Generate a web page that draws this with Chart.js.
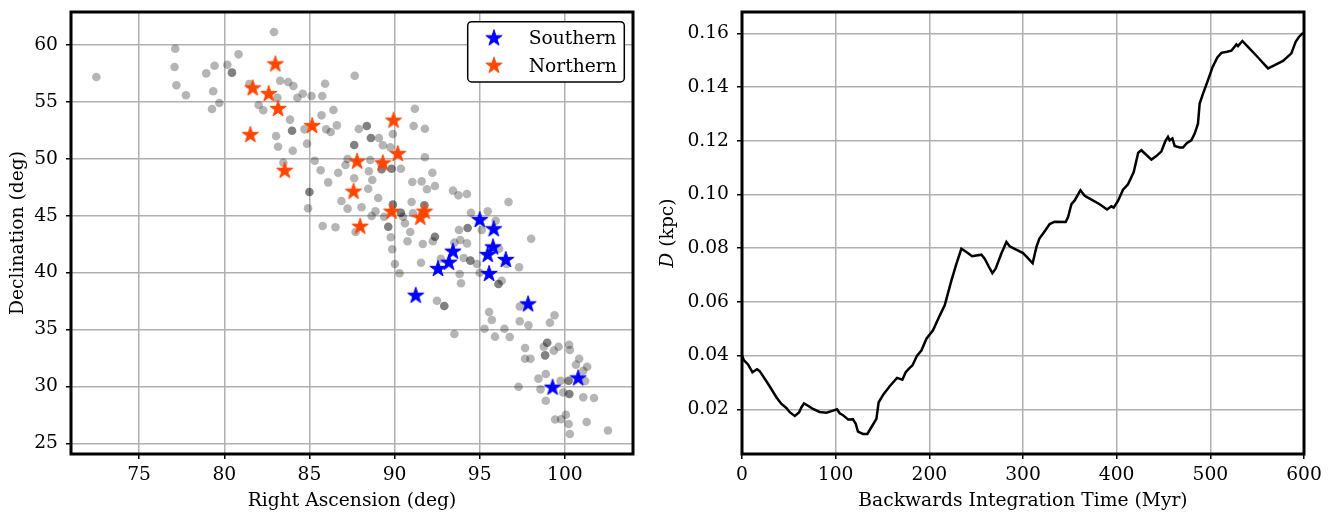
<!DOCTYPE html>
<html><head><meta charset="utf-8">
<script src="https://cdn.jsdelivr.net/npm/chart.js@4"></script>
<style>
html,body{margin:0;padding:0;background:#fff;overflow:hidden}
#wrap{position:relative;width:1342px;height:515px;background:#fff}
#c1{position:absolute;left:0;top:0}
#c2{position:absolute;left:650px;top:0}
</style></head><body>
<div id="wrap"><canvas id="c1" width="660" height="515"></canvas><canvas id="c2" width="692" height="515"></canvas></div>
<script>
// ---------------- DATA ----------------
const seriesNames = ['Southern', 'Northern'];
const raSouth  = [95.00, 95.82, 95.78, 95.47, 96.53, 95.55, 93.43, 93.19, 92.55, 91.24, 97.84, 99.28, 100.78];
const decSouth = [44.62, 43.81, 42.22, 41.55, 41.11, 39.88, 41.84, 40.87, 40.32, 37.97, 37.21, 29.89, 30.71];
const raNorth  = [83.00, 81.67, 82.61, 83.16, 81.53, 85.16, 83.55, 89.94, 90.19, 87.80, 89.31, 87.59, 89.82, 91.76, 91.51, 87.98];
const decNorth = [58.30, 56.19, 55.69, 54.38, 52.09, 52.88, 48.95, 53.35, 50.42, 49.75, 49.60, 47.11, 45.35, 45.35, 44.82, 44.03];
const raAll = [82.92,77.12,80.84,77.08,79.43,80.18,80.45,80.45,78.94,72.49,77.19,77.75,79.35,79.71,79.28,81.47,83.28,83.75,84.06,83.12,
 84.29,84.61,85.12,85.75,85.92,87.66,82.02,82.29,83.86,83.98,83.98,83.04,84.71,85.71,86.41,85.98,86.25,86.61,87.90,83.16,
 84.02,84.86,87.63,87.63,85.31,85.66,86.10,86.69,87.12,87.24,87.63,83.47,85.00,85.00,84.92,86.88,87.24,85.78,86.53,88.37,
 88.37,88.61,88.61,89.08,89.31,89.75,89.90,91.19,91.12,91.78,91.78,88.57,88.49,88.69,88.45,89.19,89.24,89.24,89.82,89.82,
 90.37,88.06,89.04,88.88,89.39,89.90,89.90,90.37,90.37,90.61,91.04,91.59,91.90,92.37,91.00,91.75,91.75,91.08,92.22,93.43,
 93.75,94.25,96.69,94.49,95.47,95.94,94.29,94.29,93.78,89.63,89.63,88.65,90.49,87.71,89.78,90.92,90.76,91.66,92.37,92.37,
 92.25,93.86,94.25,89.86,95.12,93.51,94.06,94.45,94.45,94.84,91.55,92.72,95.00,93.82,93.90,90.29,90.02,96.14,96.57,97.31,
 98.02,96.29,96.10,96.10,92.49,92.92,92.92,95.55,95.71,93.51,95.28,95.90,96.45,96.76,97.35,97.35,97.86,99.39,99.12,97.66,
 97.66,97.98,98.76,98.96,98.96,98.84,98.84,99.35,99.63,100.25,100.29,100.84,100.65,101.31,101.08,97.28,98.45,98.88,98.57,98.88,
 99.75,100.22,100.22,101.19,99.90,100.26,100.26,101.08,101.71,99.43,99.78,100.06,100.22,101.28,100.29,102.53];
const decAll = [61.14,59.67,59.18,58.07,58.18,58.27,57.57,57.57,57.51,57.19,56.46,55.58,55.93,54.90,54.38,56.57,56.86,56.75,56.40,55.37,
 55.37,55.72,55.52,55.52,56.60,57.30,54.73,54.26,53.44,52.47,52.47,52.00,52.59,53.82,54.29,52.59,52.35,52.94,52.62,51.06,
 50.71,51.33,51.21,51.21,49.83,48.99,47.93,48.78,49.46,49.98,48.29,49.66,47.08,47.08,45.65,46.29,45.62,44.09,43.98,52.88,
 52.88,51.83,51.83,51.83,51.19,51.01,52.18,54.40,52.88,52.64,50.13,49.89,48.90,48.14,47.37,49.60,49.08,49.08,49.13,49.13,
 49.13,45.74,46.56,45.39,44.91,45.97,45.97,45.26,45.26,44.33,47.96,48.02,47.32,47.61,46.20,45.91,45.91,45.21,48.78,47.20,
 46.79,46.91,46.20,45.26,45.39,44.56,43.92,43.92,43.74,44.03,44.03,44.97,44.91,43.57,43.10,43.57,42.75,42.51,43.15,43.15,
 42.75,42.86,42.57,42.05,43.74,42.63,41.28,41.05,41.05,40.76,40.87,41.22,39.99,39.88,39.06,39.94,40.76,42.10,40.76,40.47,
 42.98,39.29,39.00,39.00,37.53,37.06,37.06,36.54,35.83,34.60,35.07,34.37,35.07,34.34,37.02,35.72,35.37,36.25,35.60,33.37,
 32.43,32.43,33.49,33.84,33.84,32.73,32.73,33.14,33.49,33.66,33.20,32.43,31.91,31.73,31.38,29.97,30.68,31.09,29.74,28.74,
 30.50,30.50,30.50,30.47,29.47,29.33,29.33,29.04,28.98,27.09,27.11,27.51,26.70,26.87,25.82,26.12];
const raTicks  = [75, 80, 85, 90, 95, 100];
const decTicks = [25, 30, 35, 40, 45, 50, 55, 60];

const tMyr = [0,2.1,6.4,11.1,16.0,18.9,27.8,36.7,42.1,47.4,51.0,56.3,60.9,63.4,66.2,70.5,75.8,82.9,90.1,97.2,
 101.4,104.3,107.8,113.2,118.5,121.4,123.8,129.2,133.8,138.1,143.5,145.9,151.3,157.7,165.5,171.2,174.8,179.0,181.9,186.9,
 191.5,196.9,203.9,211.1,216.4,223.6,228.9,234.2,239.6,245.6,255.6,259.1,263.7,267.3,270.8,276.9,282.3,285.8,300.0,304.3,
 310.3,314.3,317.5,321.3,328.5,333.8,345.6,348.1,351.7,355.2,361.3,365.9,371.2,381.9,389.7,394.4,396.8,401.4,406.8,412.1,
 418.2,423.0,426.4,437.1,442.4,447.8,452.0,454.8,456.6,459.5,461.9,467.3,470.8,475.1,479.7,483.3,486.8,488.6,492.2,497.5,
 502.2,507.5,511.8,517.8,522.5,525.3,527.8,529.5,534.2,540.2,549.2,561.6,568.7,577.6,586.5,591.1,594.7,598.3,600];
const dKpc = [0.0400,0.0382,0.0367,0.0338,0.0349,0.0342,0.0295,0.0245,0.0220,0.0205,0.0189,0.0175,0.0188,0.0207,0.0222,0.0213,0.0201,0.0190,0.0187,0.0195,
 0.0200,0.0185,0.0178,0.0162,0.0163,0.0146,0.0117,0.0108,0.0108,0.0133,0.0164,0.0226,0.0257,0.0286,0.0317,0.0310,0.0338,0.0354,0.0363,0.0400,
 0.0419,0.0463,0.0494,0.0549,0.0587,0.0680,0.0742,0.0798,0.0786,0.0770,0.0776,0.0761,0.0730,0.0707,0.0724,0.0780,0.0823,0.0807,0.0782,0.0767,
 0.0744,0.0804,0.0836,0.0854,0.0890,0.0899,0.0898,0.0916,0.0964,0.0978,0.1016,0.0995,0.0985,0.0964,0.0944,0.0956,0.0951,0.0976,0.1018,0.1038,
 0.1084,0.1156,0.1165,0.1130,0.1143,0.1161,0.1199,0.1215,0.1202,0.1209,0.1181,0.1175,0.1175,0.1192,0.1202,0.1227,0.1264,0.1339,0.1376,0.1426,
 0.1473,0.1511,0.1528,0.1532,0.1536,0.1548,0.1559,0.1553,0.1572,0.1550,0.1517,0.1470,0.1482,0.1498,0.1526,0.1569,0.1588,0.1600,0.1602];
const tTicks = [0, 100, 200, 300, 400, 500, 600];
const dTicks = [0.02, 0.04, 0.06, 0.08, 0.10, 0.12, 0.14, 0.16];

// ---------------- STYLE ----------------
const FAM = "'DejaVu Serif', serif";
const FS = 18.7;
Chart.defaults.font.family = FAM;
Chart.defaults.font.size = FS;
Chart.defaults.color = '#000';

function makeStar(color, R) {
  const s = Math.ceil(2 * R + 4);
  const c = document.createElement('canvas');
  c.width = s; c.height = s;
  const g = c.getContext('2d');
  const cx = s / 2, cy = s / 2, r = R * 0.381966;
  g.beginPath();
  for (let k = 0; k < 10; k++) {
    const ang = -Math.PI / 2 + k * Math.PI / 5;
    const rr = k % 2 === 0 ? R : r;
    const px = cx + rr * Math.cos(ang), py = cy + rr * Math.sin(ang);
    k === 0 ? g.moveTo(px, py) : g.lineTo(px, py);
  }
  g.closePath();
  g.fillStyle = color; g.fill();
  g.lineWidth = 1; g.strokeStyle = color; g.stroke();
  return c;
}
const starBlue = makeStar('#0000ff', 8.6);
const starOrange = makeStar('#ff4500', 8.6);

const pts = (xs, ys) => xs.map((v, i) => ({x: v, y: ys[i]}));

const frame = {
  id: 'frame',
  afterDraw(chart) {
    const {ctx, chartArea: a} = chart;
    ctx.save();
    ctx.lineWidth = 3; ctx.strokeStyle = '#000';
    ctx.strokeRect(a.left, a.top, a.right - a.left, a.bottom - a.top);
    ctx.restore();
  }
};

const legendBox = {
  id: 'legendBox',
  afterDraw(chart) {
    const {ctx, chartArea: a} = chart;
    const x0 = a.right - 165.3, y0 = a.top + 9.7, w = 156.6, h = 60.3, rad = 4;
    ctx.save();
    ctx.beginPath();
    ctx.roundRect(x0, y0, w, h, rad);
    ctx.fillStyle = '#fff'; ctx.fill();
    ctx.lineWidth = 1.5; ctx.strokeStyle = '#000'; ctx.stroke();
    const icons = [starBlue, starOrange];
    const rows = [y0 + 16.6, y0 + 44];
    ctx.font = FS + 'px ' + FAM;
    ctx.fillStyle = '#000';
    ctx.textBaseline = 'middle';
    ctx.textAlign = 'left';
    for (let i = 0; i < 2; i++) {
      const ic = icons[i];
      ctx.drawImage(ic, x0 + 26.3 - ic.width / 2, rows[i] - ic.height / 2);
      ctx.fillText(chart.data.datasets[i].label, x0 + 61, rows[i] + 1);
    }
    ctx.restore();
  }
};

const yTitleD = {
  id: 'yTitleD',
  afterDraw(chart) {
    const {ctx, chartArea: a} = chart;
    ctx.save();
    ctx.translate(18, (a.top + a.bottom) / 2);
    ctx.rotate(-Math.PI / 2);
    ctx.textBaseline = 'middle';
    ctx.fillStyle = '#000';
    const f1 = 'italic ' + FS + 'px ' + FAM, f2 = FS + 'px ' + FAM;
    ctx.font = f1; const w1 = ctx.measureText('D').width;
    ctx.font = f2; const w2 = ctx.measureText(' (kpc)').width;
    const sx = -(w1 + w2) / 2;
    ctx.textAlign = 'left';
    ctx.font = f1; ctx.fillText('D', sx, 0);
    ctx.font = f2; ctx.fillText(' (kpc)', sx + w1, 0);
    ctx.restore();
  }
};

function gridOpts() {
  return {color: '#b0b0b0', lineWidth: 1.5, tickColor: '#000', tickWidth: 1.5, tickLength: 5};
}
function fitX(s) { s.height = 61; s.paddingLeft = 0; s.paddingRight = 0; }
function fitY(w) { return s => { s.width = w; s.paddingTop = 0; s.paddingBottom = 0; }; }

// ---------------- LEFT: scatter ----------------
new Chart(document.getElementById('c1'), {
  type: 'scatter',
  data: {
    datasets: [
      {label: seriesNames[0], data: pts(raSouth, decSouth), pointStyle: starBlue, pointRadius: 9, backgroundColor: '#0000ff', borderColor: '#0000ff'},
      {label: seriesNames[1], data: pts(raNorth, decNorth), pointStyle: starOrange, pointRadius: 9, backgroundColor: '#ff4500', borderColor: '#ff4500'},
      {label: 'all', data: pts(raAll, decAll), pointStyle: 'circle', pointRadius: 4.3, borderWidth: 0, backgroundColor: 'rgba(0,0,0,0.29)'}
    ]
  },
  options: {
    responsive: false, animation: false, events: [],
    layout: {padding: {top: 12, right: 27, left: 0, bottom: 0}},
    plugins: {legend: {display: false}, tooltip: {enabled: false}},
    scales: {
      x: {
        type: 'linear', min: 71, max: 104,
        afterBuildTicks: s => { s.ticks = raTicks.map(v => ({value: v})); },
        afterFit: fitX,
        grid: gridOpts(), border: {display: false},
        ticks: {color: '#000', padding: 5, maxRotation: 0, callback: v => String(v)},
        title: {display: true, text: 'Right Ascension (deg)', color: '#000', padding: {top: 0, bottom: 3}}
      },
      y: {
        type: 'linear', min: 24.06, max: 62.9,
        afterBuildTicks: s => { s.ticks = decTicks.map(v => ({value: v})); },
        afterFit: fitY(71),
        grid: gridOpts(), border: {display: false},
        ticks: {color: '#000', padding: 8, callback: v => String(v)},
        title: {display: true, text: 'Declination (deg)', color: '#000', padding: {top: 7, bottom: 0}}
      }
    }
  },
  plugins: [frame, legendBox]
});

// ---------------- RIGHT: line ----------------
new Chart(document.getElementById('c2'), {
  type: 'scatter',
  data: {
    datasets: [
      {label: 'D', data: pts(tMyr, dKpc), showLine: true, borderColor: '#000', borderWidth: 2.5, pointRadius: 0, fill: false, tension: 0}
    ]
  },
  options: {
    responsive: false, animation: false, events: [],
    layout: {padding: {top: 12, right: 38, left: 0, bottom: 0}},
    plugins: {legend: {display: false}, tooltip: {enabled: false}},
    scales: {
      x: {
        type: 'linear', min: 0, max: 600,
        afterBuildTicks: s => { s.ticks = tTicks.map(v => ({value: v})); },
        afterFit: fitX,
        grid: gridOpts(), border: {display: false},
        ticks: {color: '#000', padding: 5, maxRotation: 0, callback: v => String(v)},
        title: {display: true, text: 'Backwards Integration Time (Myr)', color: '#000', padding: {top: 0, bottom: 3}}
      },
      y: {
        type: 'linear', min: 0.00333, max: 0.168,
        afterBuildTicks: s => { s.ticks = dTicks.map(v => ({value: v})); },
        afterFit: fitY(92),
        grid: gridOpts(), border: {display: false},
        ticks: {color: '#000', padding: 8, callback: v => v.toFixed(2)},
        title: {display: false}
      }
    }
  },
  plugins: [frame, yTitleD]
});
</script>
</body></html>
